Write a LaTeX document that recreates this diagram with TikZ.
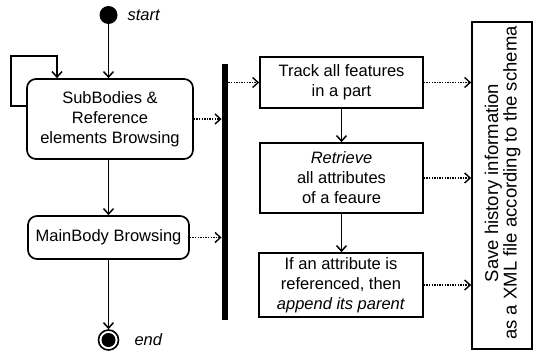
\documentclass[tikz,border=0pt]{standalone}
\usepackage{fontspec}
\setmainfont{Liberation Sans}
\usetikzlibrary{arrows.meta}
\tikzset{
  txt/.style={font=\fontsize{16.5}{20}\selectfont, align=center},
  actbox/.style={txt, draw, line width=1.7pt, rounded corners=9pt, inner sep=0pt},
  taskbox/.style={txt, draw, line width=1.7pt, inner sep=0pt},
  flow/.style={line width=1.5pt, -{Straight Barb[length=5.5pt,width=10pt,line width=1.5pt]}},
  dataflow/.style={line width=1.3pt, dash pattern=on 1.3pt off 1.3pt,
    -{Straight Barb[length=5.5pt,width=10pt,line width=1.4pt]}}
}
\begin{document}
\begin{tikzpicture}[x=1pt,y=-1pt]
\useasboundingbox (0,0) rectangle (534,351);

% initial and final states
\node[circle, fill=black, minimum size=18pt, inner sep=0pt] (start) at (108.5,15) {};
\node[txt, anchor=west, font=\fontsize{16.5}{20}\selectfont\itshape] (startlbl) at (124,15) {start};
\node[circle, draw, line width=1.6pt, minimum size=20pt, inner sep=0pt] (end) at (108.5,340) {};
\node[circle, fill=black, minimum size=14pt, inner sep=0pt] (endin) at (end.center) {};
\node[txt, anchor=west, font=\fontsize{16.5}{20}\selectfont\itshape] (endlbl) at (131,340) {end};

% browsing activities
\node[actbox, minimum width=166pt, minimum height=80pt] (sub) at (110,119)
  {SubBodies \&\\Reference\\elements Browsing};
\node[actbox, minimum width=161pt, minimum height=43pt] (main) at (108.5,237.5)
  {MainBody Browsing};

% synchronisation bar
\node[fill=black, minimum width=6.5pt, minimum height=256pt, inner sep=0pt] (bar) at (225,192) {};

% feature tasks
\node[taskbox, minimum width=163pt, minimum height=51pt] (track) at (341.5,82.5)
  {Track all features\\in a part};
\node[taskbox, minimum width=163pt, minimum height=70pt] (retr) at (341.5,178)
  {\textit{Retrieve}\\all attributes\\of a feaure};
\node[taskbox, minimum width=164pt, minimum height=64pt] (ifref) at (341,285)
  {If an attribute is\\referenced, then\\\textit{append its parent}};

% output
\node[draw, line width=1.7pt, minimum width=60pt, minimum height=327pt, inner sep=0pt] (save) at (502,185.5) {};
\node[rotate=90, align=center, font=\fontsize{18.5}{18.5}\selectfont] (savetxt) at (502.5,183)
  {Save history information\\as a XML file according to the schema};

% control flow
\draw[flow] (start) -- (start |- sub.north);
\coordinate (loopc) at (57,56);
\draw[flow] ([yshift=13pt]sub.west) -- ++(-15pt,0) |- (loopc) -- (loopc |- sub.north);
\draw[flow] (sub.south -| main.north) -- (main.north);
\draw[flow] (main.south) -- (end.north);
\draw[flow] (track.south) -- (retr.north -| track.south);
\draw[flow] (retr.south -| track.south) -- (ifref.north -| track.south);

% data flow
\draw[dataflow] (sub.east) -- (sub.east -| bar.west);
\draw[dataflow] (main.east) -- (main.east -| bar.west);
\draw[dataflow] (bar.east |- track.west) -- (track.west);
\draw[dataflow] (track.east) -- (track.east -| save.west);
\draw[dataflow] (retr.east) -- (retr.east -| save.west);
\draw[dataflow] (ifref.east) -- (ifref.east -| save.west);
\end{tikzpicture}
\end{document}
